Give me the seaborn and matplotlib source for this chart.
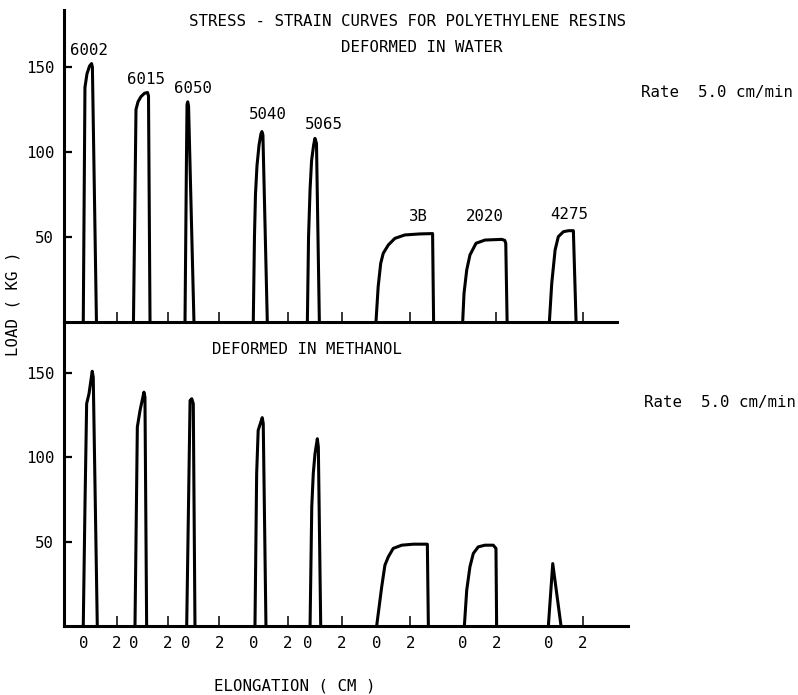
import matplotlib
matplotlib.use("Agg")
import matplotlib.pyplot as plt
import numpy as np
import pandas as pd
import seaborn as sns

# ---------------- data ----------------
specimens = ["6002", "6015", "6050", "5040", "5065", "3B", "2020", "4275"]
# elongation origin of each specimen's record on the common chart (cm)
origins_cm = [1.14, 4.14, 7.19, 11.24, 14.44, 18.50, 23.58, 28.70]
gauge_mark_cm = 2.0
zero_label = "0"
two_label = "2"
load_ticks = [50, 100, 150]

# Deformed in water: elongation (cm, from each origin) and load (kg)
w6002_x = [0, 0.10, 0.22, 0.37, 0.49, 0.54, 0.78]
w6002_y = [0, 138, 146, 150.5, 152, 150, 0]
w6015_x = [-0.03, 0.12, 0.24, 0.41, 0.62, 0.80, 0.86, 0.95]
w6015_y = [0, 125, 129.5, 132.5, 134.5, 135, 133, 0]
w6050_x = [-0.03, 0.06, 0.09, 0.13, 0.18, 0.50]
w6050_y = [0, 100, 128, 129.5, 127, 0]
w5040_x = [-0.04, 0.03, 0.09, 0.18, 0.30, 0.41, 0.47, 0.53, 0.79]
w5040_y = [0, 50, 75, 92, 104, 110.5, 112, 110, 0]
w5065_x = [-0.04, 0.03, 0.12, 0.21, 0.33, 0.41, 0.50, 0.67]
w5065_y = [0, 50, 78, 95, 104, 108, 105, 0]
w3B_x = [-0.04, 0.09, 0.24, 0.39, 0.69, 1.08, 1.67, 2.56, 3.31, 3.37]
w3B_y = [0, 20.8, 34.5, 40.4, 45.3, 49.2, 51.2, 51.8, 52.0, 0]
w2020_x = [0.01, 0.09, 0.25, 0.44, 0.80, 1.33, 2.32, 2.50, 2.56, 2.64]
w2020_y = [0, 16.9, 30.6, 39.4, 46.3, 48.2, 48.6, 48.0, 46.3, 0]
w4275_x = [0.02, 0.16, 0.36, 0.55, 0.85, 1.15, 1.44, 1.60]
w4275_y = [0, 22.7, 42.4, 50.2, 53.1, 53.7, 53.7, 0]

# Deformed in methanol
m6002_x = [0, 0.10, 0.20, 0.34, 0.53, 0.59, 0.83]
m6002_y = [0, 70.6, 131.8, 137.7, 151, 147.5, 0]
m6015_x = [0.06, 0.20, 0.36, 0.59, 0.65, 0.75]
m6015_y = [0, 118, 127.8, 138.6, 135.7, 0]
m6050_x = [0.07, 0.27, 0.37, 0.46, 0.56]
m6050_y = [0, 133.7, 134.7, 131.8, 0]
m5040_x = [0.06, 0.16, 0.25, 0.49, 0.55, 0.71]
m5040_y = [0, 90.4, 116, 123.5, 120, 0]
m5065_x = [0.12, 0.22, 0.31, 0.41, 0.55, 0.61, 0.75]
m5065_y = [0, 70.6, 90.4, 102, 111, 106, 0]
m3B_x = [0, 0.30, 0.49, 0.69, 0.98, 1.48, 2.17, 3.00, 3.06]
m3B_y = [0, 23.3, 36.1, 41.0, 46.0, 47.9, 48.5, 48.5, 0]
m2020_x = [0.11, 0.25, 0.44, 0.64, 0.93, 1.33, 1.82, 1.98, 2.02]
m2020_y = [0, 21.3, 35.1, 43.0, 46.9, 47.9, 47.9, 46.0, 0]
m4275_x = [-0.04, 0.22, 0.71]
m4275_y = [0, 37, 0]

water = [(w6002_x, w6002_y), (w6015_x, w6015_y), (w6050_x, w6050_y),
         (w5040_x, w5040_y), (w5065_x, w5065_y), (w3B_x, w3B_y),
         (w2020_x, w2020_y), (w4275_x, w4275_y)]
methanol = [(m6002_x, m6002_y), (m6015_x, m6015_y), (m6050_x, m6050_y),
            (m5040_x, m5040_y), (m5065_x, m5065_y), (m3B_x, m3B_y),
            (m2020_x, m2020_y), (m4275_x, m4275_y)]

rows = []
for medium, curves in (("water", water), ("methanol", methanol)):
    for name, org, (xs, ys) in zip(specimens, origins_cm, curves):
        for i, (x, y) in enumerate(zip(xs, ys)):
            rows.append({"medium": medium, "specimen": name, "order": i,
                         "elong": org + x, "load": y})
df = pd.DataFrame(rows)

# ---------------- style ----------------
sns.set_style("ticks")
plt.rcParams["font.family"] = ["DejaVu Sans Mono", "DejaVu Sans"]
plt.rcParams["text.color"] = "black"
plt.rcParams["axes.labelcolor"] = "black"
plt.rcParams["xtick.color"] = "black"
plt.rcParams["ytick.color"] = "black"
FS = 11.3

W, H = 798, 695
fig = plt.figure(figsize=(W / 100, H / 100), dpi=100)


def fx(px):
    return px / W


def fy(py):
    return 1 - py / H


x0, x1 = 64, 628
ax_top = fig.add_axes([fx(x0), fy(322), fx(x1) - fx(x0), fy(10) - fy(322)])
ax_bot = fig.add_axes([fx(x0), fy(626), fx(x1) - fx(x0), fy(322) - fy(626)])

px_per_cm = 16.9
xmax = (x1 - x0) / px_per_cm

for ax, medium, ytop in ((ax_top, "water", 183.5), (ax_bot, "methanol", 180.2)):
    sub = df[df["medium"] == medium]
    sns.lineplot(data=sub, x="elong", y="load", units="specimen",
                 estimator=None, sort=False, color="black", linewidth=2.2,
                 ax=ax, legend=False)
    ax.set_xlim(0, xmax)
    ax.set_ylim(0, ytop)
    ax.set_xlabel("")
    ax.set_ylabel("")
    for s in ("top", "right"):
        ax.spines[s].set_visible(False)
    for s in ("left", "bottom"):
        ax.spines[s].set_linewidth(2.2)
        ax.spines[s].set_color("black")
    ax.patch.set_alpha(0)
    ax.set_yticks(load_ticks)
    ax.set_yticklabels([str(v) for v in load_ticks], fontsize=FS, color="black")
    ax.tick_params(axis="y", direction="in", length=6, width=1.6, pad=7,
                   colors="black")
    twos = [o + gauge_mark_cm for o in origins_cm]
    ax.set_xticks(twos)
    ax.tick_params(axis="x", which="major", direction="in", length=7.5,
                   width=1.1, colors="black")
    ax.set_xticks(origins_cm, minor=True)
    ax.tick_params(axis="x", which="minor", length=0)

ax_top.spines["bottom"].set_bounds(0, (617 - x0) / px_per_cm)
ax_top.set_xticklabels([])
ax_top.set_xticks(origins_cm, labels=[""] * len(origins_cm), minor=True)

ax_bot.set_xticklabels([two_label] * len(origins_cm), fontsize=FS)
ax_bot.set_xticks(origins_cm, labels=[zero_label] * len(origins_cm), minor=True)
ax_bot.tick_params(axis="x", which="both", pad=7, labelsize=FS,
                   labelcolor="black")

# specimen labels
label_x_cm = [1.45, 4.85, 7.63, 12.07, 15.38, 21.0, 24.91, 29.88]
label_y_kg = [159.4, 142.4, 137.6, 121.8, 115.9, 61.8, 61.8, 63.5]
for name, lx, ly in zip(specimens, label_x_cm, label_y_kg):
    ax_top.text(lx, ly, name, ha="center", va="center", fontsize=FS,
                color="black")

# texts
tk = dict(fontsize=FS, color="black", va="center")
fig.text(fx(407.5), fy(21), "STRESS - STRAIN CURVES FOR POLYETHYLENE RESINS",
         ha="center", **tk)
fig.text(fx(422), fy(48), "DEFORMED IN WATER", ha="center", **tk)
fig.text(fx(306.5), fy(350), "DEFORMED IN METHANOL", ha="center", **tk)
fig.text(fx(641), fy(93), "Rate  5.0 cm/min", ha="left", **tk)
fig.text(fx(644), fy(403), "Rate  5.0 cm/min", ha="left", **tk)
fig.text(fx(13), fy(304), "LOAD ( KG )", ha="center", rotation=90, **tk)
fig.text(fx(295), fy(686), "ELONGATION ( CM )", ha="center", **tk)

fig.savefig("out.png", dpi=100)
